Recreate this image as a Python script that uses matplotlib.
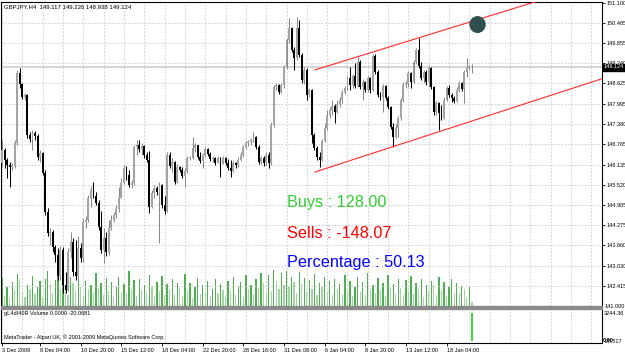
import numpy as np
import matplotlib
matplotlib.use("Agg")
import matplotlib.pyplot as plt
from matplotlib.patches import Ellipse, Rectangle

plt.rcParams['font.family'] = ['Liberation Sans', 'DejaVu Sans']

# ---- data (GBPJPY H4, one entry per bar) ----
title = "GBPJPY,H4  149.117 149.226 148.938 149.124"
first_open = 146.19

closes = [
    146.58, 146.28, 146.13, 146.06, 146.09, 146.80, 148.95, 148.61, 148.21, 148.27,
    147.05, 146.92, 147.11, 147.02, 146.37, 146.49, 145.88, 144.68, 144.04, 144.07,
    143.62, 143.37, 142.73, 143.52, 142.45, 142.29, 143.46, 143.77, 142.85, 142.73,
    143.58, 143.27, 144.38, 144.44, 145.11, 145.36, 145.18, 144.96, 144.23, 143.52,
    143.89, 143.46, 144.19, 144.44, 144.59, 144.77, 145.11,
    145.57, 146.03, 145.82, 145.51, 145.57, 146.68, 146.74, 146.61, 146.71, 146.43,
    146.28, 144.84, 145.26, 145.42, 145.30, 145.51, 144.90, 144.71, 146.43, 146.09,
    146.22, 145.60, 146.06, 145.97, 145.79, 145.94, 146.34, 146.34, 146.64, 146.74,
    146.37, 146.25, 146.43, 146.61, 146.46, 146.31, 146.34, 146.19, 146.34, 146.16,
    146.34, 146.19, 146.03, 145.94, 146.19, 146.13, 146.28, 146.43,
    146.68, 146.80, 146.83, 146.89, 146.98, 146.68, 146.22, 146.34, 146.19, 146.43,
    146.19, 147.35, 148.51, 148.58, 148.36, 148.58, 149.13, 149.96, 150.32, 149.65,
    149.40, 150.32, 149.50, 148.73, 149.04, 148.27, 148.42, 147.05, 146.64, 146.37,
    146.28, 146.86, 147.26, 147.66, 147.81, 147.93, 147.75, 147.99, 148.12, 148.36,
    148.48, 148.79, 148.58, 148.85, 148.55, 149.28, 148.51,
    148.67, 148.42, 148.79, 148.42, 149.47, 148.97, 148.27, 148.21, 148.55, 148.18,
    147.90, 147.29, 146.98, 147.26, 147.57, 148.12, 148.58, 148.61, 148.94, 148.67,
    149.28, 149.65, 149.16, 148.79, 148.97, 148.67, 149.10, 148.51, 147.75, 148.02,
    147.72, 147.57, 148.12, 148.48, 148.27, 148.18, 148.09, 148.42, 148.64, 148.45,
    148.97, 149.10, 149.117, 149.124,
]

highs = [
    146.89, 146.64, 146.34, 146.22, 146.19, 146.89, 149.04, 149.10, 148.64, 148.33,
    148.30, 147.14, 147.20, 147.17, 147.08, 146.58, 146.52, 145.97, 144.81, 144.19,
    144.13, 143.67, 143.58, 143.64, 143.62, 142.85, 143.58, 144.07, 143.89, 143.83,
    143.95, 143.74, 144.50, 144.56, 145.20, 145.48, 145.60, 145.30, 145.05, 144.71,
    144.19, 144.07, 144.44, 144.59, 144.68, 144.90, 145.45,
    145.73, 146.13, 146.09, 145.97, 145.66, 146.74, 146.89, 146.89, 146.80, 146.74,
    146.52, 146.55, 145.36, 145.51, 145.48, 145.60, 145.54, 145.18, 146.52, 146.52,
    146.34, 146.25, 146.16, 146.09, 146.06, 146.03, 146.40, 146.40, 146.98, 146.80,
    146.71, 146.52, 146.49, 146.68, 146.64, 146.52, 146.40, 146.37, 146.40, 146.37,
    146.40, 146.37, 146.31, 146.28, 146.25, 146.22, 146.37, 146.52,
    146.74, 146.86, 146.89, 146.95, 147.14, 147.02, 146.74, 146.40, 146.40, 146.52,
    146.52, 147.44, 148.58, 148.64, 148.61, 148.64, 149.19, 150.02, 150.63, 150.35,
    149.74, 150.66, 150.57, 149.56, 149.13, 149.10, 148.48, 148.45, 147.11, 146.71,
    146.52, 146.92, 147.41, 147.81, 147.90, 148.12, 147.99, 148.12, 148.21, 148.42,
    148.55, 148.85, 149.13, 148.91, 149.25, 149.43, 149.34,
    148.76, 148.70, 148.85, 148.82, 149.53, 149.53, 149.04, 148.36, 148.61, 148.58,
    148.24, 147.93, 147.41, 147.38, 147.63, 148.18, 148.67, 148.70, 149.01, 148.97,
    149.34, 149.71, 150.02, 149.28, 149.04, 149.04, 149.16, 149.13, 148.55, 148.09,
    148.05, 147.96, 148.21, 148.55, 148.58, 148.33, 148.24, 148.51, 148.70, 148.67,
    149.04, 149.40, 149.19, 149.226,
]

lows = [
    146.06, 146.03, 145.73, 145.45, 145.97, 146.03, 146.74, 148.48, 148.15, 148.12,
    146.95, 146.83, 146.58, 146.89, 146.28, 146.22, 145.82, 144.59, 143.95, 143.67,
    143.46, 143.15, 142.60, 142.60, 142.20, 142.20, 142.26, 143.27, 142.73, 142.60,
    142.66, 143.15, 143.15, 144.19, 144.38, 144.84, 145.11, 144.90, 144.13, 143.43,
    143.12, 143.34, 143.37, 144.13, 144.38, 144.50, 144.68,
    145.14, 145.54, 145.66, 145.45, 145.42, 145.51, 146.43, 146.52, 146.43, 146.34,
    146.22, 144.65, 144.81, 145.11, 145.20, 143.73, 144.81, 144.62, 144.68, 146.03,
    145.91, 145.54, 145.57, 145.91, 145.73, 145.45, 145.88, 146.28, 146.31, 146.52,
    146.31, 146.19, 146.03, 146.37, 146.40, 146.25, 146.22, 146.13, 146.19, 145.76,
    146.16, 146.13, 145.97, 145.76, 145.91, 146.03, 146.06, 146.25,
    146.37, 146.61, 146.71, 146.74, 146.83, 146.61, 146.16, 146.16, 146.09, 146.13,
    146.03, 146.13, 147.29, 148.42, 148.30, 148.33, 148.48, 149.07, 149.86, 149.59,
    149.04, 149.34, 149.43, 148.64, 148.61, 148.12, 148.21, 146.80, 146.58, 146.28,
    146.06, 146.25, 146.83, 147.20, 147.57, 147.66, 147.41, 147.72, 147.90, 148.02,
    148.30, 148.42, 148.42, 148.48, 148.48, 148.51, 148.45,
    148.12, 148.36, 148.36, 148.33, 148.39, 148.91, 148.21, 148.12, 147.75, 148.12,
    147.84, 147.23, 146.68, 146.95, 146.98, 147.50, 148.05, 148.48, 148.51, 148.48,
    148.64, 149.22, 149.10, 148.73, 148.64, 148.58, 148.51, 148.45, 147.66, 147.66,
    147.20, 147.50, 147.53, 148.09, 148.21, 148.05, 148.02, 148.05, 148.36, 148.39,
    148.02, 148.82, 149.04, 148.938,
]

volumes = [
    4200, 1500, 2800, 1200, 3600, 2400, 4800, 3900, 2100, 1300,
    3100, 2600, 4500, 1800, 2900, 3700, 1400, 4100, 5200, 3300,
    2000, 3900, 4700, 2600, 5100, 3000, 1700, 4300, 3500, 2200,
    4600, 2800, 1500, 3800, 2500, 3200, 1900, 4900, 2700, 3500,
    1600, 4200, 2300, 3600, 1300, 2900, 4400, 2100, 3300, 1800,
    5300, 2600, 3900, 1500, 4100, 2400, 3100, 1900, 4700, 2800,
    1400, 3600, 2200, 4500, 1700, 3300, 2500, 4000, 1600, 3400,
    2700, 1500, 4800, 2300, 3500, 1200, 2900, 4200, 1800, 3100,
    2000, 3700, 1500, 2600, 4100, 1900, 3300, 2400, 1300, 3800,
    2200, 4400, 1700, 2900, 3600, 1400, 4700, 2500, 3200, 1800,
    4000, 2700, 5000, 3400, 1900, 4600, 2300, 5400, 3800, 2600,
    4900, 3100, 5300, 2800, 4400, 3600, 1900, 5100, 3300, 4200,
    2100, 3900, 2600, 4800, 1700, 3500, 2900, 4300, 2000, 3700,
    1600, 4100, 2500, 3300, 1800, 4600, 2200, 3800, 1500, 2900,
    4400, 2100, 3600, 1700, 4900, 2600, 3200, 1900, 4200, 2400,
    3500, 1500, 4700, 2800, 3300, 2000, 4100, 2700, 1600, 3900,
    2300, 4500, 1800, 3400, 2600, 4000, 1400, 3100, 2200, 3700,
    3200, 1700, 4300, 2400, 3600, 1500, 2900, 4100, 2000, 3400,
    1900, 3000, 2500, 1300, 2800, 600,
]

price_ticks = [150.485, 149.855, 149.240, 148.625, 147.995, 147.380, 146.765,
               146.135, 145.520, 144.905, 144.275, 143.660, 143.030, 142.415]
top_tick = 151.100
bottom_label = "141.000"
date_labels = ["3 Dec 2009", "8 Dec 04:00", "10 Dec 20:00", "15 Dec 12:00",
               "18 Dec 04:00", "22 Dec 20:00", "28 Dec 16:00", "31 Dec 08:00",
               "6 Jan 04:00", "8 Jan 20:00", "13 Jan 12:00", "18 Jan 04:00"]
date_bars = [0, 15, 31, 47, 63, 79, 95, 111, 127, 143, 159, 175]
bid = 149.124

# trend channel drawn on the chart: (bar, price) end points
upper_x, upper_y = [123.2, 236.2], [149.04, 151.76]
lower_x, lower_y = [123.2, 236.2], [145.91, 148.77]

buys, sells, percentage = 128.00, -148.07, 50.13
ind_pos, ind_neg = 3244.36, -20.0681
ind_top, ind_low = 3244.36, -25.517

n = len(closes)
assert len(highs) == n and len(lows) == n and len(volumes) == n

closes = np.array(closes)
opens = np.r_[first_open, closes[:-1]]
highs = np.maximum(np.array(highs), np.maximum(opens, closes))
lows = np.minimum(np.array(lows), np.minimum(opens, closes))
volumes = np.array(volumes)
x = np.arange(n)
up = closes >= opens

# ---- figure ----
W, H = 625, 355
fig = plt.figure(figsize=(W / 100, H / 100), dpi=100)
fig.patch.set_facecolor('white')


def box(x0, y0, x1, y1):
    return [x0 / W, 1 - y1 / H, (x1 - x0) / W, (y1 - y0) / H]


XLIM = (-0.2, 236.2)
YLIM = (141.802, 151.137)
grid_kw = dict(color='#c8c8c8', lw=0.6, ls=(0, (2, 2)))
small = 4.0

# volume layer (behind candles)
axv = fig.add_axes(box(1.5, 1.5, 602, 306), label='vol')
axv.set_xlim(XLIM)
axv.set_ylim(0, 304.5 * 150)
for gx in range(0, 237, 8):
    axv.axvline(gx, zorder=0, **grid_kw)
vol_up = np.r_[True, volumes[1:] > volumes[:-1]]
axv.bar(x, volumes, width=0.5, color=np.where(vol_up, '#4fae4f', '#a3d6a3'),
        linewidth=0, zorder=2)
axv.set_xticks([])
axv.set_yticks([])
for s in axv.spines.values():
    s.set_visible(False)

# price layer
ax = fig.add_axes(box(1.5, 1.5, 602, 306), label='price')
ax.patch.set_visible(False)
ax.set_xlim(XLIM)
ax.set_ylim(YLIM)
for p in price_ticks:
    ax.axhline(p, zorder=0, **grid_kw)
ax.axhline(bid, color='#c9c9c9', lw=1.1, zorder=1)

ax.vlines(x, lows, highs, colors=np.where(up, '#8a8a8a', '#000000'), lw=0.75, zorder=3)
body_lo = np.minimum(opens, closes)
body_h = np.maximum(np.abs(closes - opens), 0.025)
ax.bar(x, body_h, bottom=body_lo, width=0.75,
       color=np.where(up, '#a4a4a4', '#000000'), linewidth=0, zorder=4)

ax.plot(upper_x, upper_y, color='#ff2a2a', lw=0.8, zorder=5)
ax.plot(lower_x, lower_y, color='#ff2a2a', lw=0.8, zorder=5)
ax.add_patch(Ellipse((187.2, 150.43), width=5.9, height=0.475,
                     color='#2f4f4f', zorder=6))

ax.yaxis.tick_right()
ax.set_yticks(price_ticks + [top_tick])
ax.set_yticklabels([f"{v:.3f}" for v in price_ticks + [top_tick]])
ax.tick_params(axis='y', length=2, width=0.6, pad=1, labelsize=small)
ax.set_xticks([])
ax.spines['bottom'].set_visible(False)
for s in ('left', 'top', 'right'):
    ax.spines[s].set_linewidth(0.8)

fig.text(4 / W, 1 - 7 / H, title, fontsize=4.3, va='center')
fig.text(605 / W, 1 - 306 / H, bottom_label, fontsize=small, va='center')

fig.text(287 / W, 1 - 207 / H, f"Buys : {buys:.2f}", color='#32cd32',
         fontsize=11.7, va='baseline')
fig.text(287 / W, 1 - 238 / H, f"Sells : {sells:.2f}", color='#ff0000',
         fontsize=11.7, va='baseline')
fig.text(287 / W, 1 - 267 / H, f"Percentage : {percentage:.2f}", color='#0000ff',
         fontsize=11.7, va='baseline')

# current price marker on the scale
fig.add_artist(Rectangle((602.5 / W, 1 - 70.5 / H), 22.5 / W, 7 / H,
                         transform=fig.transFigure, color='black', zorder=5))
fig.text(604 / W, 1 - 67 / H, f"{bid:.3f}", color='white', fontsize=small,
         va='center', zorder=6)

# separator between main chart and indicator window
fig.add_artist(Rectangle((1.5 / W, 1 - 309 / H), 600.5 / W, 3 / H,
                         transform=fig.transFigure, color='#8a8a8a', zorder=5))

# indicator sub window
ax2 = fig.add_axes(box(1.5, 309, 602, 343), label='ind')
ax2.set_xlim(XLIM)
ax2.set_ylim(-263, 3779)
for gx in range(0, 237, 8):
    ax2.axvline(gx, zorder=0, **grid_kw)
ax2.bar([n - 1], [ind_pos], width=0.8, color='#3cd63c', linewidth=0, zorder=3)
ax2.bar([n], [ind_neg], width=0.8, color='#ff3030', linewidth=0, zorder=3)
ax2.yaxis.tick_right()
ax2.set_yticks([ind_top, ind_low])
ax2.set_yticklabels([f"{ind_top:.2f}", f"{ind_low:.3f}"])
ax2.tick_params(axis='y', length=0, pad=1.5, labelsize=small)
ax2.set_xticks(date_bars)
ax2.set_xticklabels(date_labels)
for lbl in ax2.get_xticklabels():
    lbl.set_ha('left')
ax2.tick_params(axis='x', length=2, width=0.6, pad=1.5, labelsize=small)
ax2.spines['top'].set_visible(False)
for s in ('left', 'bottom', 'right'):
    ax2.spines[s].set_linewidth(0.8)
fig.text(603 / W, 1 - 341 / H, "0.00", fontsize=small, va='center',
         fontweight='bold')

fig.text(4 / W, 1 - 314 / H, "gL4dI40R Volume 0.0000 -20.0681", fontsize=small,
         va='center')
fig.text(4 / W, 1 - 337 / H,
         "MetaTrader - Alpari UK, \u00a9 2001-2009 MetaQuotes Software Corp.",
         fontsize=small, va='center')

fig.savefig("out.png", dpi=100)
